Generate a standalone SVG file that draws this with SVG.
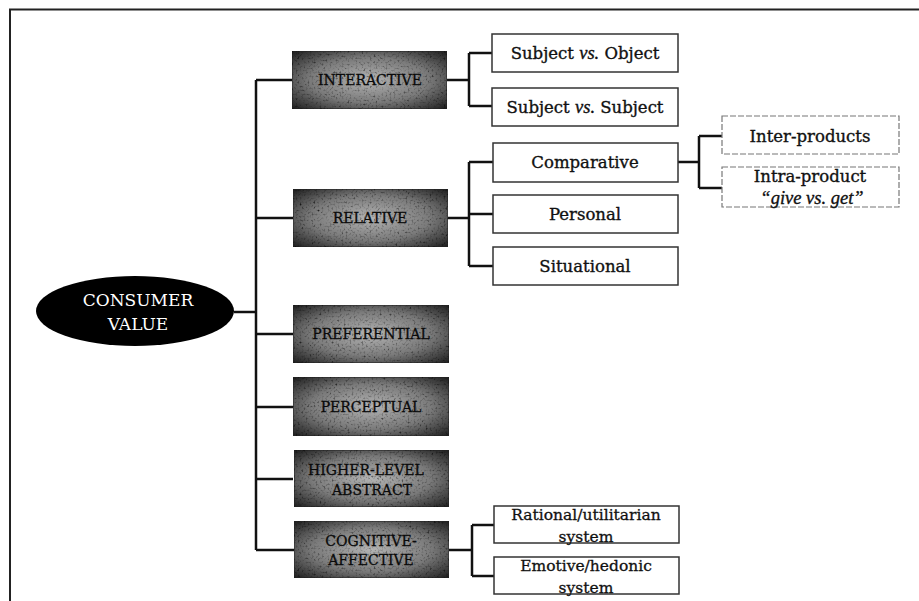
<svg xmlns="http://www.w3.org/2000/svg" width="919" height="601" viewBox="0 0 919 601">
<defs>
  <radialGradient id="dg" cx="50%" cy="50%" r="70%">
    <stop offset="0" stop-color="#b4b4b4"/>
    <stop offset="0.55" stop-color="#7a7a7a"/>
    <stop offset="1" stop-color="#1e1e1e"/>
  </radialGradient>
  <filter id="grain" x="0" y="0" width="100%" height="100%">
    <feTurbulence type="fractalNoise" baseFrequency="0.5" numOctaves="3" seed="7" result="n"/>
    <feColorMatrix in="n" type="matrix" values="0.33 0.33 0.33 0 0  0.33 0.33 0.33 0 0  0.33 0.33 0.33 0 0  0 0 0 0 1" result="g"/>
    <feComponentTransfer in="g" result="gc">
      <feFuncR type="linear" slope="3.6" intercept="-0.8"/>
      <feFuncG type="linear" slope="3.6" intercept="-0.8"/>
      <feFuncB type="linear" slope="3.6" intercept="-0.8"/>
    </feComponentTransfer>
    <feBlend in="SourceGraphic" in2="gc" mode="multiply" result="b"/>
    <feComposite in="b" in2="SourceGraphic" operator="in"/>
  </filter>
  <style>
    .frame{fill:none;stroke:#222;stroke-width:2}
    .conn{fill:none;stroke:#111;stroke-width:2.5}
    .dark{fill:url(#dg);stroke:#222;stroke-width:1;filter:url(#grain)}
    .dt{font-family:"DejaVu Serif",serif;font-size:14px;fill:#0a0a0a;stroke:#0a0a0a;stroke-width:0.3;text-anchor:middle}
    .box{fill:#fff;stroke:#333;stroke-width:1.5}
    .fbox{fill:#fff;stroke:#777;stroke-width:1.2;stroke-dasharray:6 2}
    .bt{font-family:"DejaVu Serif",serif;font-size:16.5px;fill:#111;stroke:#111;stroke-width:0.35;text-anchor:middle}
    .st{font-family:"DejaVu Serif",serif;font-size:15.5px;fill:#111;stroke:#111;stroke-width:0.3;text-anchor:middle}
    .it{font-family:"Liberation Serif",serif;font-style:italic;font-size:18.5px}
    .ct{font-family:"DejaVu Serif",serif;font-size:17px;fill:#fff;text-anchor:middle}
  </style>
</defs>
<rect width="919" height="601" fill="#fff"/>
<path class="frame" d="M10,601 V9.5 H919"/>

<g id="connectors">
  <path class="conn" d="M234,312 H256"/>
  <path class="conn" d="M256,80 V550"/>
  <path class="conn" d="M256,80 H292 M256,218 H293 M256,334 H293 M256,407 H293 M256,479 H293 M256,550 H294"/>
  <path class="conn" d="M447,80 H469 M469,53 V106 M469,53 H492 M469,106 H492"/>
  <path class="conn" d="M448,218 H469 M469,162 V266 M469,162 H493 M469,214 H493 M469,266 H493"/>
  <path class="conn" d="M678,162 H699 M699,136 V188 M699,136 H722 M699,188 H722"/>
  <path class="conn" d="M449,550 H472 M472,525 V576 M472,525 H494 M472,576 H494"/>
</g>

<g id="consumer-value">
  <ellipse cx="135" cy="311" rx="99" ry="35" fill="#000"/>
  <text class="ct" x="138" y="306">CONSUMER</text>
  <text class="ct" x="138" y="330">VALUE</text>
</g>

<g id="interactive">
  <rect class="dark" x="292" y="51" width="155" height="58"/>
  <text class="dt" x="370" y="85">INTERACTIVE</text>
</g>
<g id="relative">
  <rect class="dark" x="293" y="189" width="155" height="58"/>
  <text class="dt" x="370" y="223">RELATIVE</text>
</g>
<g id="preferential">
  <rect class="dark" x="293" y="305" width="156" height="58"/>
  <text class="dt" x="371" y="339">PREFERENTIAL</text>
</g>
<g id="perceptual">
  <rect class="dark" x="293" y="377" width="156" height="59"/>
  <text class="dt" x="371" y="412">PERCEPTUAL</text>
</g>
<g id="higher-level">
  <rect class="dark" x="294" y="450" width="155" height="57"/>
  <text class="dt" x="366" y="475">HIGHER-LEVEL</text>
  <text class="dt" x="372" y="495">ABSTRACT</text>
</g>
<g id="cognitive-affective">
  <rect class="dark" x="294" y="521" width="155" height="57"/>
  <text class="dt" x="371" y="546">COGNITIVE-</text>
  <text class="dt" x="371" y="565">AFFECTIVE</text>
</g>

<g id="subject-object">
  <rect class="box" x="492" y="34" width="186" height="38"/>
  <text class="bt" x="585" y="59">Subject <tspan class="it">vs.</tspan> Object</text>
</g>
<g id="subject-subject">
  <rect class="box" x="492" y="88" width="186" height="38"/>
  <text class="bt" x="585" y="113">Subject <tspan class="it">vs.</tspan> Subject</text>
</g>
<g id="comparative">
  <rect class="box" x="493" y="143" width="185" height="39"/>
  <text class="bt" x="585" y="168">Comparative</text>
</g>
<g id="personal">
  <rect class="box" x="493" y="195" width="185" height="38"/>
  <text class="bt" x="585" y="220">Personal</text>
</g>
<g id="situational">
  <rect class="box" x="493" y="247" width="185" height="38"/>
  <text class="bt" x="585" y="272">Situational</text>
</g>
<g id="inter-products">
  <rect class="fbox" x="722" y="116" width="177" height="38"/>
  <text class="bt" x="810" y="142">Inter-products</text>
</g>
<g id="intra-product">
  <rect class="fbox" x="722" y="167" width="177" height="40"/>
  <text class="bt" x="810" y="182">Intra-product</text>
  <text class="bt" x="812" y="204"><tspan class="it">“give vs. get”</tspan></text>
</g>
<g id="rational">
  <rect class="box" x="494" y="506" width="185" height="37"/>
  <text class="st" x="586" y="520">Rational/utilitarian</text>
  <text class="st" x="586" y="542">system</text>
</g>
<g id="emotive">
  <rect class="box" x="494" y="557" width="185" height="37"/>
  <text class="st" x="586" y="571">Emotive/hedonic</text>
  <text class="st" x="586" y="593">system</text>
</g>
</svg>
